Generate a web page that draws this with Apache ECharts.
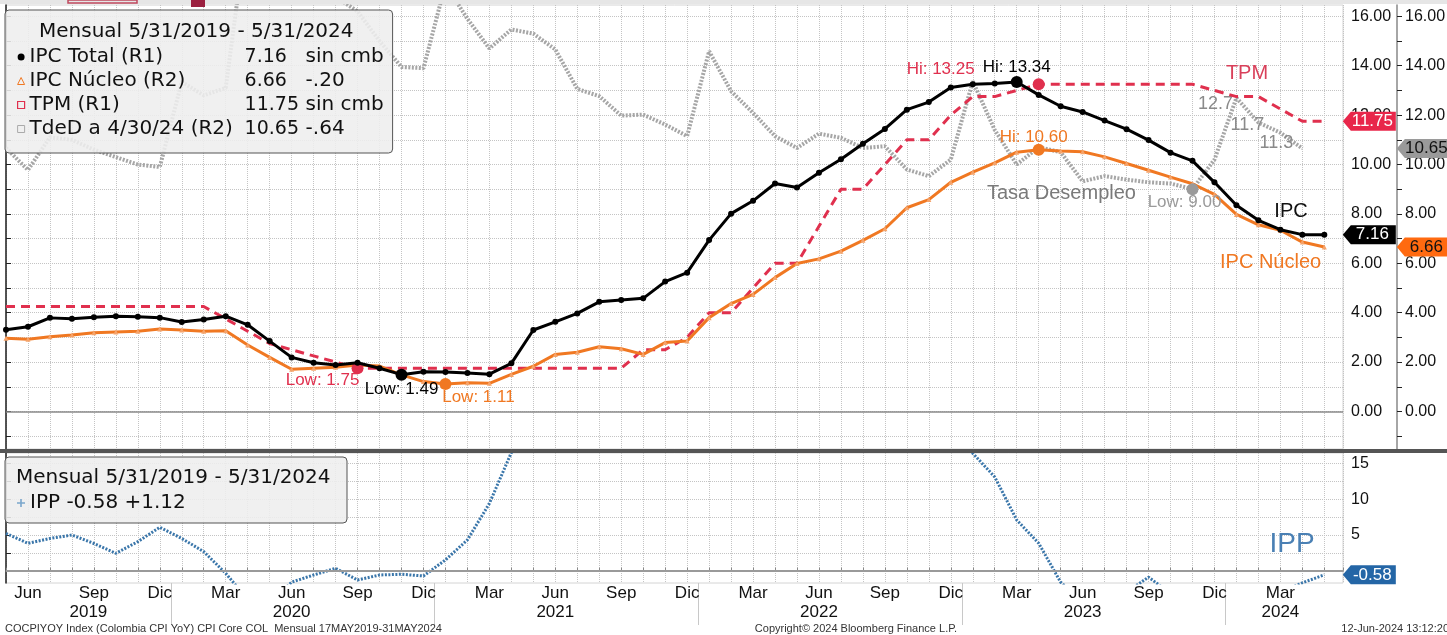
<!DOCTYPE html>
<html>
<head>
<meta charset="utf-8">
<script src="https://cdn.jsdelivr.net/npm/echarts@6.0.0/dist/echarts.min.js"></script>
<style>
html, body { margin: 0; padding: 0; background: #fff; }
#main { width: 1447px; height: 635px; }
</style>
</head>
<body>
<div id="main"></div>
<script>
// indice 0 = mayo 2019 ... indice 60 = mayo 2024 (mensual)
var monthNames = ['Ene', 'Feb', 'Mar', 'Abr', 'May', 'Jun', 'Jul', 'Ago', 'Sep', 'Oct', 'Nov', 'Dic'];
var monthTicks = [1, 4, 7, 10, 13, 16, 19, 22, 25, 28, 31, 34, 37, 40, 43, 46, 49, 52, 55, 58];
var yearLabels = ['2019', '2020', '2021', '2022', '2023', '2024'];
var yearLabelPos = [3.75, 13, 25, 37, 49, 58];
var yearSeparators = [7.5, 19.5, 31.5, 43.5, 55.5];

var rTicks = [-1, 0, 1, 2, 3, 4, 5, 6, 7, 8, 9, 10, 11, 12, 13, 14, 15, 16];
var rLabels = [0, 2, 4, 6, 8, 10, 12, 14, 16];
var ippTicks = [0, 2.5, 5, 7.5, 10, 12.5, 15];
var ippLabels = [5, 10, 15];

// IPC total (R1)
var ipc = [3.31, 3.43, 3.79, 3.75, 3.82, 3.86, 3.84, 3.80,
    3.62, 3.72, 3.86, 3.51, 2.85, 2.19, 1.97, 1.88, 1.97, 1.75, 1.49, 1.61,
    1.60, 1.56, 1.51, 1.95, 3.30, 3.63, 3.97, 4.44, 4.51, 4.58, 5.26, 5.62,
    6.94, 8.01, 8.53, 9.23, 9.07, 9.67, 10.21, 10.84, 11.44, 12.22, 12.53, 13.12,
    13.25, 13.28, 13.34, 12.82, 12.36, 12.13, 11.78, 11.43, 10.99, 10.48, 10.15, 9.28,
    8.35, 7.74, 7.36, 7.16, 7.16];
// IPC nucleo (R2)
var ipcNucleo = [2.96, 2.92, 3.03, 3.10, 3.19, 3.22, 3.25, 3.34,
    3.30, 3.25, 3.27, 2.69, 2.19, 1.71, 1.75, 1.79, 1.88, 1.84, 1.48, 1.21,
    1.11, 1.16, 1.14, 1.50, 1.83, 2.31, 2.40, 2.62, 2.54, 2.31, 2.79, 2.85,
    3.80, 4.37, 4.74, 5.42, 5.99, 6.18, 6.49, 6.93, 7.40, 8.25, 8.58, 9.28,
    9.69, 10.07, 10.50, 10.60, 10.55, 10.52, 10.31, 10.04, 9.77, 9.49, 9.22, 8.79,
    7.98, 7.56, 7.34, 6.86, 6.66];
// TPM (R1)
var tpm = [4.25, 4.25, 4.25, 4.25, 4.25, 4.25, 4.25, 4.25,
    4.25, 4.25, 3.75, 3.25, 2.75, 2.50, 2.25, 2.00, 1.75, 1.75, 1.75, 1.75,
    1.75, 1.75, 1.75, 1.75, 1.75, 1.75, 1.75, 1.75, 1.75, 2.50, 2.50, 3.00,
    4.00, 4.00, 5.00, 6.00, 6.00, 7.50, 9.00, 9.00, 10.00, 11.00, 11.00, 12.00,
    12.75, 12.75, 13.00, 13.25, 13.25, 13.25, 13.25, 13.25, 13.25, 13.25, 13.25, 13.00,
    12.75, 12.75, 12.25, 11.75, 11.75];
// Tasa de desempleo (R2), ultimo dato abril 2024
var tded = [10.67, 9.78, 11.10, 11.00, 10.60, 10.30, 10.00, 9.90,
    13.35, 12.80, 13.10, 19.80, 21.40, 19.80, 20.20, 16.80, 16.20, 15.00, 13.95, 13.90,
    17.30, 15.90, 14.70, 15.47, 15.30, 14.66, 13.06, 12.77, 11.98, 12.02, 11.62, 11.15,
    14.59, 12.97, 12.09, 11.15, 10.67, 11.25, 11.08, 10.67, 10.74, 9.80, 9.53, 10.20,
    13.37, 11.40, 10.00, 10.70, 10.50, 9.32, 9.53, 9.39, 9.28, 9.23, 9.00, 10.20,
    12.70, 11.70, 11.29, 10.65, null];
// IPP (panel inferior)
var ipp = [5.20, 3.83, 4.50, 4.98, 3.80, 2.43, 4.05, 6.06,
    4.50, 2.66, -0.37, -4.00, -4.50, -1.60, -0.60, 0.33, -1.30, -0.60, -0.50, -0.74,
    1.50, 4.30, 9.40, 16.50, 18.60, 20.00, 21.50, 22.30, 24.00, 25.90, 27.00, 28.30,
    29.00, 31.00, 33.00, 34.00, 35.50, 36.00, 35.00, 33.00, 30.50, 27.50, 24.50, 20.50,
    16.40, 13.10, 7.08, 3.83, -1.60, -4.50, -6.00, -3.00, -0.90, -3.20, -4.50, -4.00,
    -4.60, -3.80, -3.00, -1.70, -0.58];

var FONT = '"Liberation Sans", Arial, sans-serif';
var BOXFONT = '"DejaVu Sans", Verdana, sans-serif';
var C_IPC = '#000000', C_NUC = '#f07822', C_TPM = '#e0304e', C_TDED = '#a6a6a6', C_IPP = '#3a76aa';

function pairs(arr) {
    return arr.map(function (v, i) { return [i, v]; });
}
function lastIdx(arr) {
    for (var i = arr.length - 1; i >= 0; i--) if (arr[i] != null) return i;
    return -1;
}
function fmtChg(d) {
    if (Math.abs(d) < 0.005) return 'sin cmb';
    return (d < 0 ? '-' : '+') + Math.abs(d).toFixed(2).replace(/^0/, '');
}
var tagPath = 'path://M0,9.5 L8,0 L53,0 L53,19 L8,19 Z';
function tag(arr, color, textColor, dx) {
    var k = lastIdx(arr);
    return {
        coord: [k, arr[k]], value: arr[k],
        symbol: tagPath, symbolSize: [53, 19], symbolOffset: [dx, 0],
        itemStyle: { color: color },
        label: { show: true, position: 'inside', offset: [3, 0], color: textColor,
            fontSize: 17, fontFamily: FONT, formatter: function (p) { return p.value.toFixed(2); } }
    };
}
function hiLo(type, text, color, pos, offset) {
    return {
        type: type, symbol: 'circle', symbolSize: 12, itemStyle: { color: color },
        label: { show: true, position: pos, distance: 1, offset: offset, color: color,
            fontSize: 17, fontFamily: FONT,
            formatter: function (p) { return text + ': ' + p.value.toFixed(2); } }
    };
}

var names = ['IPC Total (R1)', 'IPC Núcleo (R2)', 'TPM (R1)', 'TdeD a 4/30/24 (R2)'];
var arrays = [ipc, ipcNucleo, tpm, tded];

var tdedData = tded.map(function (v, i) {
    var offs = { 56: [-21, 6], 57: [-11, 2], 58: [-4, 10] };
    if (offs[i]) {
        return { value: [i, v], label: { show: true, position: 'inside', offset: offs[i],
            color: '#8a8a8a', fontSize: 18, fontFamily: FONT,
            formatter: function (p) { return p.value[1].toFixed(1); } } };
    }
    return [i, v];
});

var xBase = { type: 'value', min: 0, max: 60.85 };
var chart = echarts.init(document.getElementById('main'));

chart.setOption({
    animation: false,
    backgroundColor: '#fff',
    textStyle: { fontFamily: FONT },
    title: [
        { text: 'Mensual 5/31/2019 - 5/31/2024', left: 39, top: 22, padding: 0, z: 10,
          textStyle: { fontSize: 20, fontWeight: 'normal', color: '#111', fontFamily: BOXFONT } },
        { text: 'Mensual 5/31/2019 - 5/31/2024', left: 16, top: 468, padding: 0, z: 10,
          textStyle: { fontSize: 20, fontWeight: 'normal', color: '#111', fontFamily: BOXFONT } }
    ],
    legend: [
        {
            left: 5, top: 10, orient: 'vertical', selectedMode: false, z: 8,
            padding: [37, 8, 14, 12], itemGap: 4, itemWidth: 7, itemHeight: 7,
            backgroundColor: 'rgba(238,238,238,0.88)', borderColor: '#555', borderWidth: 1, borderRadius: 4,
            data: [
                { name: names[0], icon: 'circle', itemStyle: { color: '#000' } },
                { name: names[1], icon: 'triangle', itemStyle: { color: 'transparent', borderColor: C_NUC, borderWidth: 1 } },
                { name: names[2], icon: 'rect', itemStyle: { color: 'transparent', borderColor: C_TPM, borderWidth: 1.2 } },
                { name: names[3], icon: 'rect', itemStyle: { color: 'transparent', borderColor: '#aaa', borderWidth: 1 } }
            ],
            formatter: function (name) {
                var arr = arrays[names.indexOf(name)];
                var k = lastIdx(arr);
                return '{n|' + name + '}{v|' + arr[k].toFixed(2) + '}{c|' + fmtChg(arr[k] - arr[k - 1]) + '}';
            },
            textStyle: {
                fontSize: 20, color: '#111', fontFamily: BOXFONT, lineHeight: 20,
                rich: {
                    n: { width: 215, fontSize: 20, fontFamily: BOXFONT, color: '#111' },
                    v: { width: 61, fontSize: 19, fontFamily: BOXFONT, color: '#111' },
                    c: { width: 79, fontSize: 20, fontFamily: BOXFONT, color: '#111' }
                }
            }
        },
        {
            left: 5, top: 457, orient: 'vertical', selectedMode: false, z: 8,
            padding: [36, 8, 10, 12], itemWidth: 8, itemHeight: 8,
            backgroundColor: 'rgba(238,238,238,0.88)', borderColor: '#555', borderWidth: 1, borderRadius: 4,
            data: [{ name: 'IPP', icon: 'path://M4,0 L6,0 L6,4 L10,4 L10,6 L6,6 L6,10 L4,10 L4,6 L0,6 L0,4 L4,4 Z',
                     itemStyle: { color: '#7aa6cc' } }],
            formatter: function (name) {
                var k = lastIdx(ipp);
                var d = ipp[k] - ipp[k - 1];
                return '{n|' + name + ' ' + ipp[k].toFixed(2) + ' ' + (d >= 0 ? '+' : '') + d.toFixed(2) + '}';
            },
            textStyle: { fontSize: 20, color: '#111', fontFamily: BOXFONT, lineHeight: 20,
                rich: { n: { width: 309, fontSize: 20, fontFamily: BOXFONT, color: '#111' } } }
        }
    ],
    grid: [
        { left: 6, top: 5, width: 1337, height: 444, show: true, backgroundColor: '#fff',
          borderColor: '#d4d4d4', borderWidth: 1, outerBoundsMode: 'none' },
        { left: 6, top: 453, width: 1337, height: 130, show: true, backgroundColor: '#fff',
          borderColor: '#d4d4d4', borderWidth: 1, outerBoundsMode: 'none' }
    ],
    xAxis: [
        Object.assign({}, xBase, {
            gridIndex: 0, interval: 1,
            axisLine: { show: false }, axisTick: { show: false }, axisLabel: { show: false },
            splitLine: { show: true, lineStyle: { color: '#c4c4c4', type: 'dotted', width: 1 } }
        }),
        Object.assign({}, xBase, {
            gridIndex: 1, interval: 1, position: 'bottom',
            axisLine: { show: true, lineStyle: { color: '#8a8a8a', width: 1.5 } },
            axisTick: { show: true, inside: true, length: 3, lineStyle: { color: '#8a8a8a' } },
            axisLabel: {
                customValues: monthTicks, margin: 2, fontSize: 17, color: '#111', fontFamily: FONT,
                formatter: function (v) { return monthNames[(4 + Math.round(v)) % 12]; }
            },
            splitLine: { show: true, lineStyle: { color: '#c4c4c4', type: 'dotted', width: 1 } }
        }),
        Object.assign({}, xBase, {
            gridIndex: 1, position: 'bottom', offset: 0,
            axisLine: { show: false },
            axisTick: { show: true, customValues: yearSeparators, length: 42, lineStyle: { color: '#c8c8c8', width: 1 } },
            axisLabel: {
                customValues: yearLabelPos, margin: 21, fontSize: 17, color: '#111', fontFamily: FONT,
                formatter: function (v) { return yearLabels[yearLabelPos.indexOf(v)]; }
            },
            splitLine: { show: false }
        })
    ],
    yAxis: [
        {
            type: 'value', gridIndex: 0, position: 'right', min: -1.52, max: 16.46,
            axisLine: { show: true, lineStyle: { color: '#222', width: 1.5 } },
            axisTick: { show: true, customValues: rTicks, length: 5, lineStyle: { color: '#222' } },
            axisLabel: { customValues: rLabels, margin: 8, fontSize: 16, color: '#111', fontFamily: FONT,
                formatter: function (v) { return v.toFixed(2); } },
            splitLine: { show: true, lineStyle: { color: '#c4c4c4', type: 'dotted', width: 1 } }
        },
        {
            type: 'value', gridIndex: 0, position: 'right', offset: 54, min: -1.52, max: 16.46,
            axisLine: { show: true, lineStyle: { color: '#888', width: 1.5 } },
            axisTick: { show: true, customValues: rTicks, length: 5, lineStyle: { color: '#222' } },
            axisLabel: { customValues: rLabels, margin: 8, fontSize: 16, color: '#111', fontFamily: FONT,
                formatter: function (v) { return v.toFixed(2); } },
            splitLine: { show: false }
        },
        {
            type: 'value', gridIndex: 1, position: 'right', min: -1.72, max: 16.44,
            axisLine: { show: true, lineStyle: { color: '#222', width: 1.5 } },
            axisTick: { show: true, customValues: ippTicks, length: 5, lineStyle: { color: '#222' } },
            axisLabel: { customValues: ippLabels, margin: 8, fontSize: 16, color: '#111', fontFamily: FONT },
            splitLine: { show: true, lineStyle: { color: '#c4c4c4', type: 'dotted', width: 1 } }
        }
    ],
    series: [
        {
            name: names[3], type: 'line', xAxisIndex: 0, yAxisIndex: 1, z: 2,
            data: tdedData, showSymbol: true, showAllSymbol: true, symbol: 'circle', symbolSize: 0,
            lineStyle: { color: C_TDED, width: 4, type: [2, 1.5] }, itemStyle: { color: C_TDED },
            markPoint: { data: [
                hiLo('min', 'Low', '#9a9a9a', 'bottom', [-8, -2]),
                tag(tded, '#9a9a9a', '#111', 121)
            ] }
        },
        {
            name: names[2], type: 'line', xAxisIndex: 0, yAxisIndex: 0, z: 3,
            data: pairs(tpm), showSymbol: false,
            lineStyle: { color: C_TPM, width: 3, type: [9, 6] }, itemStyle: { color: C_TPM },
            markPoint: { data: [
                hiLo('max', 'Hi', C_TPM, 'top', [-98, 1]),
                hiLo('min', 'Low', C_TPM, 'bottom', [-35, -3]),
                tag(tpm, '#e8264a', '#fff', 45)
            ] }
        },
        {
            name: names[1], type: 'line', xAxisIndex: 0, yAxisIndex: 1, z: 4,
            data: pairs(ipcNucleo), showSymbol: true, showAllSymbol: true, symbol: 'triangle', symbolSize: 5,
            lineStyle: { color: C_NUC, width: 3 }, itemStyle: { color: '#f5a36a' },
            markPoint: { data: [
                hiLo('max', 'Hi', C_NUC, 'top', [-5, 3]),
                hiLo('min', 'Low', C_NUC, 'bottom', [33, -2]),
                tag(ipcNucleo, '#ff6a10', '#111', 99)
            ] }
        },
        {
            name: names[0], type: 'line', xAxisIndex: 0, yAxisIndex: 0, z: 5,
            data: pairs(ipc), showSymbol: true, showAllSymbol: true, symbol: 'circle', symbolSize: 6,
            lineStyle: { color: C_IPC, width: 3 }, itemStyle: { color: C_IPC },
            markLine: { silent: true, symbol: 'none', label: { show: false },
                lineStyle: { color: '#8a8a8a', width: 1.5, type: 'solid' }, data: [{ yAxis: 0 }] },
            markPoint: { data: [
                hiLo('max', 'Hi', C_IPC, 'top', [0, 1]),
                hiLo('min', 'Low', C_IPC, 'bottom', [0, -1]),
                tag(ipc, '#000', '#fff', 45)
            ] }
        },
        {
            name: 'IPP', type: 'line', xAxisIndex: 1, yAxisIndex: 2, z: 3,
            data: pairs(ipp), showSymbol: false,
            lineStyle: { color: C_IPP, width: 3, type: [2, 1.5] }, itemStyle: { color: C_IPP },
            markLine: { silent: true, symbol: 'none', label: { show: false },
                lineStyle: { color: '#9a9a9a', width: 2, type: 'solid' }, data: [{ yAxis: 0 }] },
            markPoint: { data: [ tag(ipp, '#2466a6', '#fff', 45) ] }
        }
    ],
    graphic: [
        { type: 'rect', z: 20, shape: { x: 0, y: 0, width: 1447, height: 4 }, style: { fill: '#e6e6e6' } },
        { type: 'rect', z: 21, shape: { x: 68, y: 0, width: 69, height: 3 }, style: { fill: 'none', stroke: '#c0485e', lineWidth: 1.5 } },
        { type: 'rect', z: 21, shape: { x: 191, y: 0, width: 14, height: 7 }, style: { fill: '#9b2040' } },
        { type: 'rect', z: 20, shape: { x: 0, y: 449, width: 1447, height: 4 }, style: { fill: '#555' } },
        { type: 'text', z: 20, x: 1247, y: 73, style: { text: 'TPM', fill: '#d9405a', font: '20px ' + FONT, align: 'center', verticalAlign: 'middle' } },
        { type: 'text', z: 20, x: 1291, y: 211, style: { text: 'IPC', fill: '#111', font: '20px ' + FONT, align: 'center', verticalAlign: 'middle' } },
        { type: 'text', z: 20, x: 1220, y: 262, style: { text: 'IPC Núcleo', fill: C_NUC, font: '20px ' + FONT, align: 'left', verticalAlign: 'middle' } },
        { type: 'text', z: 20, x: 987, y: 193, style: { text: 'Tasa Desempleo', fill: '#7a7a7a', font: '20px ' + FONT, align: 'left', verticalAlign: 'middle' } },
        { type: 'text', z: 20, x: 1292, y: 544, style: { text: 'IPP', fill: '#4a80b4', font: '28px ' + FONT, align: 'center', verticalAlign: 'middle' } },
        { type: 'text', z: 20, x: 5, y: 629, style: { text: 'COCPIYOY Index (Colombia CPI YoY) CPI Core COL  Mensual 17MAY2019-31MAY2024',
            fill: '#333', font: '11px "Liberation Sans Narrow", "Liberation Sans", sans-serif', align: 'left', verticalAlign: 'middle' } },
        { type: 'text', z: 20, x: 856, y: 629, style: { text: 'Copyright© 2024 Bloomberg Finance L.P.',
            fill: '#333', font: '11px "Liberation Sans Narrow", "Liberation Sans", sans-serif', align: 'center', verticalAlign: 'middle' } },
        { type: 'text', z: 20, x: 1449, y: 629, style: { text: '12-Jun-2024 13:12:20',
            fill: '#333', font: '11px "Liberation Sans Narrow", "Liberation Sans", sans-serif', align: 'right', verticalAlign: 'middle' } }
    ]
});
</script>
</body>
</html>
